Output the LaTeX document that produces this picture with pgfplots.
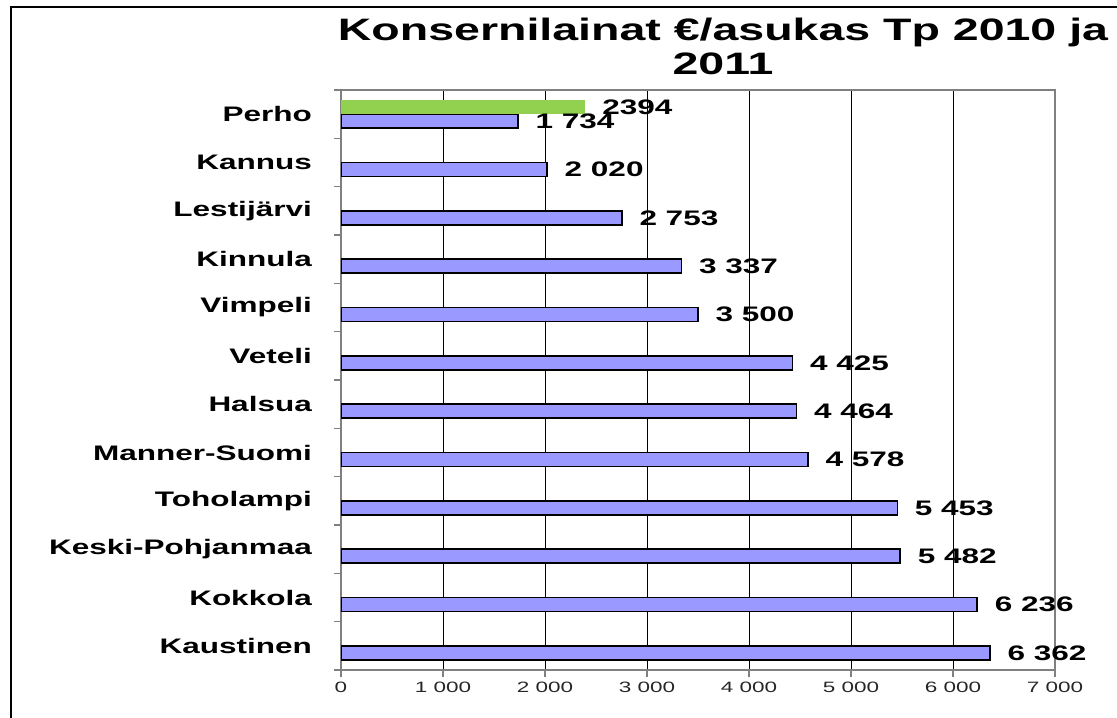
\documentclass[border=0pt]{standalone}
\usepackage{fontspec}
\setmainfont{Liberation Sans}[FakeStretch=1.5]
\usepackage{pgfplots}
\pgfplotsset{compat=1.18}
\definecolor{barblue}{RGB}{153,153,255}
\definecolor{bargreen}{RGB}{146,208,80}
\definecolor{axgray}{RGB}{128,128,128}
\begin{document}
\begin{tikzpicture}
\useasboundingbox (0,0) rectangle (1117bp,718bp);
\draw[line width=1.2bp] (11bp,0) -- (11bp,711bp) -- (1117bp,711bp);
\begin{axis}[
  at={(341bp,48bp)}, anchor=south west,
  scale only axis, width=714bp, height=580bp,
  xmin=0, xmax=7000, ymin=-0.5, ymax=11.5,
  xbar, bar width=14bp,
  axis line style={axgray, line width=1.5bp},
  tick style={axgray, line width=1.2bp},
  tick align=outside, major tick length=7bp, tick pos=left,
  xtick={0,1000,2000,3000,4000,5000,6000,7000},
  xticklabels={0,1 000,2 000,3 000,4 000,5 000,6 000,7 000},
  xticklabel style={font=\fontsize{15bp}{17bp}\selectfont, text=black!85, inner sep=0pt, anchor=north, yshift=-5bp},
  xmajorgrids, grid style={black, line width=1bp},
  ytick={-0.5,0.5,...,11.5}, yticklabels={},
  extra y ticks={0,1,2,3,4,5,6,7,8,9,10,11},
  extra y tick labels={Kaustinen,Kokkola,Keski-Pohjanmaa,Toholampi,Manner-Suomi,Halsua,Veteli,Vimpeli,Kinnula,Lestijärvi,Kannus,Perho},
  extra y tick style={major tick length=0pt, yticklabel style={font=\bfseries\fontsize{21bp}{23bp}\selectfont, anchor=east, inner sep=0pt, xshift=-29bp}},
  title={Konsernilainat €/asukas Tp 2010 ja\\2011},
  title style={at={(0.535,1)}, anchor=south, inner sep=0pt, yshift=9bp, align=center, font=\bfseries\fontsize{31bp}{34bp}\selectfont},
  nodes near coords,
  nodes near coords style={anchor=west, inner sep=0pt, xshift=17bp, font=\bfseries\fontsize{21bp}{23bp}\selectfont},
  /pgf/number format/assume math mode=true,
]
\addplot[fill=barblue, draw=black, line width=1.4bp, bar shift=-7bp, /pgf/number format/1000 sep={\ }]
  coordinates {(6362,0) (6236,1) (5482,2) (5453,3) (4578,4) (4464,5) (4425,6) (3500,7) (3337,8) (2753,9) (2020,10) (1734,11)};
\addplot[fill=bargreen, draw=none, bar shift=7bp, /pgf/number format/1000 sep={}]
  coordinates {(2394,11)};
\end{axis}
\end{tikzpicture}
\end{document}
